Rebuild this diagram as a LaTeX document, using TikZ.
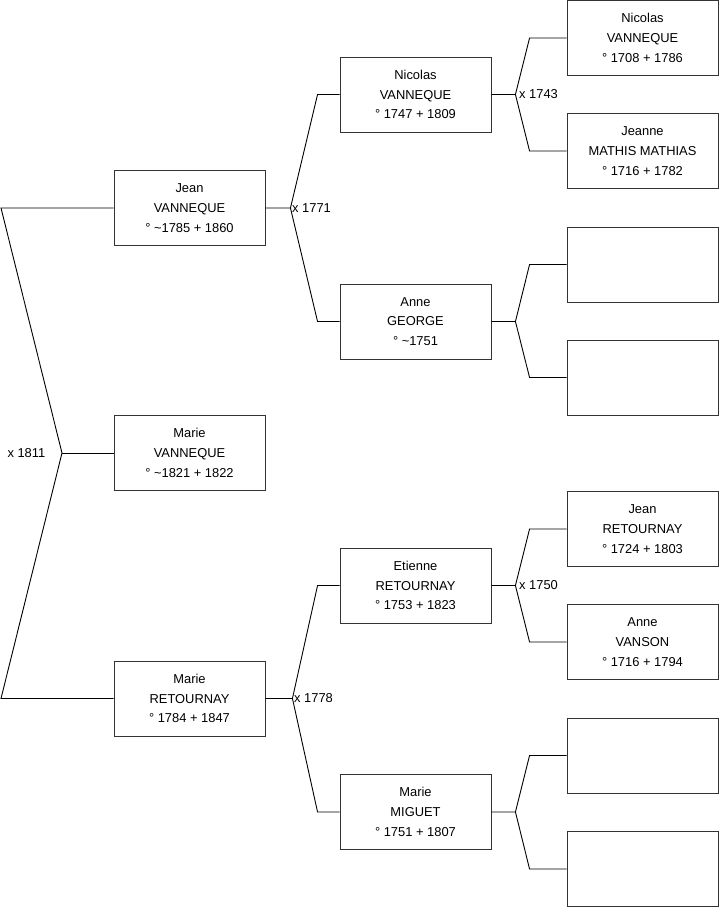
\documentclass[tikz,border=0pt]{standalone}
\usepackage{fontspec}
\setmainfont{Liberation Sans}
\begin{document}
\begin{tikzpicture}[x=1pt,y=-1pt,
  person/.style={draw=black!80,line width=0.9pt,minimum width=151pt,minimum height=75pt,
    inner sep=0pt,align=center,font=\fontsize{12.9}{19.7}\selectfont},
  link/.style={black,line width=0.9pt},
  wed/.style={inner sep=1.5pt,font=\fontsize{12.9}{15}\selectfont}]
\useasboundingbox (0,0) rectangle (719,908);
% generation 1
\node[person] (jean) at (189.5,208) {Jean\\VANNEQUE\\° \textasciitilde1785 + 1860};
\node[person] (marieV) at (189.5,453) {Marie\\VANNEQUE\\° \textasciitilde1821 + 1822};
\node[person] (marieR) at (189.5,698.5) {Marie\\RETOURNAY\\° 1784 + 1847};
% generation 2
\node[person] (nicolas) at (415.5,94.5) {Nicolas\\VANNEQUE\\° 1747 + 1809};
\node[person] (anne) at (415.5,321.5) {Anne\\GEORGE\\° \textasciitilde1751};
\node[person] (etienne) at (415.5,585.5) {Etienne\\RETOURNAY\\° 1753 + 1823};
\node[person] (marieM) at (415.5,812) {Marie\\MIGUET\\° 1751 + 1807};
% generation 3
\node[person] (nicolasV) at (642.5,38) {Nicolas\\VANNEQUE\\° 1708 + 1786};
\node[person] (jeanne) at (642.5,151) {Jeanne\\MATHIS MATHIAS\\° 1716 + 1782};
\node[person] (jeanR) at (642.5,529) {Jean\\RETOURNAY\\° 1724 + 1803};
\node[person] (anneV) at (642.5,642) {Anne\\VANSON\\° 1716 + 1794};
\foreach \name/\y in {emptyA/264.5,emptyB/377.5,emptyC/755.5,emptyD/869}
  \node[person] (\name) at (642.5,\y) {};

% left fork
\coordinate (topend) at (1,208);
\coordinate (botend) at (1,698.5);
\coordinate (fork0) at (62,453);
\draw[link] (jean.west) -- (topend) -- (fork0) -- (botend) -- (marieR.west);
\draw[link] (fork0) -- (marieV.west);
\node[wed,left] (x1811) at ([xshift=-15pt]fork0) {x 1811};

% generation 1 forks
\draw[link] (jean.east) -- ++(25,0) coordinate (fork1)
  -- ([xshift=-22pt]nicolas.west) -- (nicolas.west);
\draw[link] (fork1) -- ([xshift=-22pt]anne.west) -- (anne.west);
\node[wed,right] (x1771) at (fork1) {x 1771};
\draw[link] (marieR.east) -- ++(27,0) coordinate (fork2)
  -- ([xshift=-22pt]etienne.west) -- (etienne.west);
\draw[link] (fork2) -- ([xshift=-22pt]marieM.west) -- (marieM.west);
\node[wed,right] (x1778) at (fork2) {x 1778};

% generation 2 forks
\foreach \p/\a/\b in {nicolas/nicolasV/jeanne,anne/emptyA/emptyB,
    etienne/jeanR/anneV,marieM/emptyC/emptyD} {
  \draw[link] (\p.east) -- ++(24,0) coordinate (fork-\p)
    -- ([xshift=-37pt]\a.west) -- (\a.west);
  \draw[link] (fork-\p) -- ([xshift=-37pt]\b.west) -- (\b.west);
}
\node[wed,right] (x1743) at ([xshift=2pt]fork-nicolas) {x 1743};
\node[wed,right] (x1750) at ([xshift=2pt]fork-etienne) {x 1750};
\end{tikzpicture}
\end{document}
